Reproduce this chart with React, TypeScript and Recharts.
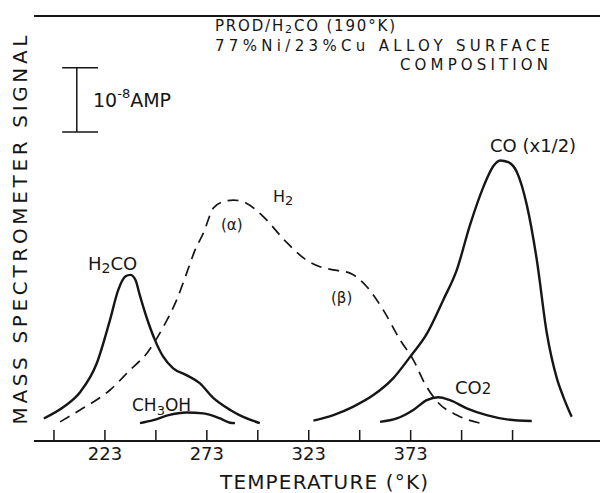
import React from 'react';
import { LineChart, Line, XAxis, YAxis, ReferenceLine } from 'recharts';

// temperature in K, signal in arbitrary units (0 = baseline, 100 = top of frame)
const h2coTemp = [193, 203, 211, 219, 225.5, 229.5, 233, 235.5, 238, 240, 243.5, 247.5, 251.5, 256.5, 263, 269.5, 276, 284.5, 289, 299];
const h2coSignal = [5.3, 8.1, 11.6, 18.3, 28.5, 35.5, 38.7, 39.1, 37.9, 34.5, 29.0, 23.8, 19.9, 17.1, 15.5, 13.6, 10.2, 7.3, 6.1, 4.2];

const h2Temp = [201, 210.8, 225.5, 235.3, 243.5, 251.7, 258.2, 263.1, 267.2, 271.3, 276.2, 281.1, 286, 292.6, 300.7, 311.4, 321.2, 328.5, 335.9, 343.2, 351.5, 359.6, 367.8, 374.3, 380.1, 385.8, 395.6, 407.1];
const h2Signal = [4.5, 7.3, 12.0, 16.7, 20.6, 26.9, 33.2, 39.5, 44.9, 48.9, 54.8, 56.3, 56.7, 55.9, 52.8, 47.1, 42.8, 41.0, 40.2, 39.5, 36.3, 30.8, 23.8, 19.1, 13.4, 9.4, 6.1, 4.2];

const ch3ohTemp = [240.2, 246.7, 254.2, 263.1, 271.3, 279.5, 284.4, 286.8];
const ch3ohSignal = [4.2, 4.9, 6.1, 6.7, 6.5, 5.3, 4.3, 4.2];

const coTemp = [325.3, 335.1, 344.9, 354.7, 364.5, 372.7, 380.9, 389, 395.6, 402.1, 408.7, 413.6, 416.9, 420.9, 425.1, 430, 434.9, 439.8, 444.7, 447.9, 452];
const coSignal = [4.8, 6.1, 8.1, 10.8, 14.8, 19.8, 25.2, 33.2, 40.2, 50.8, 59.8, 64.7, 66.0, 65.6, 63.3, 55.5, 42.6, 25.4, 14.8, 10.4, 5.7];

const co2Temp = [358, 366.2, 374.3, 380.9, 386.6, 392.3, 400.5, 410.3, 420.2, 432.4];
const co2Signal = [4.5, 5.3, 7.3, 9.6, 10.3, 9.6, 7.7, 6.1, 5.1, 4.7];

const tickTemps = [198, 223, 248, 273, 298, 323, 348, 373, 398, 423];
const tickLabels = ['223', '273', '323', '373'];

// 10^-8 AMP scale bar: left / centre / right temperature, bottom / top signal
const ampBarTemp = [202, 209.2, 219.6];
const ampBarSignal = [72.7, 87.8];

const zip = (t: number[], v: number[]) => t.map((x, i) => ({ t: x, v: v[i] }));

const ink = '#161616';
const font = '"DejaVu Sans", "Liberation Sans", sans-serif';

const TempTick = (props: any) => {
  const { x, y, payload } = props;
  const label = String(payload.value);
  return (
    <g>
      <line x1={x} y1={y} x2={x} y2={y - 11} stroke={ink} strokeWidth={1.5} />
      {tickLabels.includes(label) && (
        <text x={x} y={y + 19} textAnchor="middle" fontSize={18} fill={ink} fontFamily={font}>
          {label}
        </text>
      )}
    </g>
  );
};

export default function App() {
  return (
    <div style={{ position: 'absolute', left: 0, top: 0, width: 600, height: 493, background: '#fff' }}>
      <LineChart width={600} height={493} margin={{ top: 16, right: 0, left: 34, bottom: 0 }}>
        <XAxis
          type="number"
          dataKey="t"
          domain={[188.2, 465.9]}
          ticks={tickTemps}
          height={52}
          tickSize={0}
          tickMargin={0}
          tickLine={false}
          tick={<TempTick />}
          axisLine={{ stroke: ink, strokeWidth: 2 }}
          allowDataOverflow
        />
        <YAxis
          type="number"
          domain={[0, 100]}
          width={0}
          tick={false}
          tickLine={false}
          axisLine={{ stroke: ink, strokeWidth: 2 }}
          allowDataOverflow
        />
        <ReferenceLine y={100} stroke={ink} strokeWidth={2} />
        <ReferenceLine segment={[{ x: ampBarTemp[1], y: ampBarSignal[0] }, { x: ampBarTemp[1], y: ampBarSignal[1] }]} stroke={ink} strokeWidth={1.5} />
        <ReferenceLine segment={[{ x: ampBarTemp[0], y: ampBarSignal[0] }, { x: ampBarTemp[2], y: ampBarSignal[0] }]} stroke={ink} strokeWidth={1.5} />
        <ReferenceLine segment={[{ x: ampBarTemp[0], y: ampBarSignal[1] }, { x: ampBarTemp[2], y: ampBarSignal[1] }]} stroke={ink} strokeWidth={1.5} />

        <Line data={zip(h2Temp, h2Signal)} dataKey="v" type="monotone" stroke={ink} strokeWidth={1.7} strokeDasharray="11 7" dot={false} isAnimationActive={false} />
        <Line data={zip(h2coTemp, h2coSignal)} dataKey="v" type="monotone" stroke={ink} strokeWidth={2.4} dot={false} isAnimationActive={false} />
        <Line data={zip(ch3ohTemp, ch3ohSignal)} dataKey="v" type="monotone" stroke={ink} strokeWidth={2.4} dot={false} isAnimationActive={false} />
        <Line data={zip(coTemp, coSignal)} dataKey="v" type="monotone" stroke={ink} strokeWidth={2.4} dot={false} isAnimationActive={false} />
        <Line data={zip(co2Temp, co2Signal)} dataKey="v" type="monotone" stroke={ink} strokeWidth={2.4} dot={false} isAnimationActive={false} />
      </LineChart>

      <svg width={600} height={493} style={{ position: 'absolute', left: 0, top: 0, pointerEvents: 'none' }} fontFamily={font} fill={ink}>
        {/* axis titles */}
        <text transform="translate(27,230) rotate(-90)" textAnchor="middle" fontSize={20} textLength={389} lengthAdjust="spacing">
          MASS SPECTROMETER SIGNAL
        </text>
        <text x={324} y={489} textAnchor="middle" fontSize={20} textLength={208} lengthAdjust="spacing">
          TEMPERATURE (°K)
        </text>

        {/* heading */}
        <text x={215} y={31} fontSize={15} textLength={180} lengthAdjust="spacing">
          PROD/H<tspan fontSize={11} dy={2}>2</tspan><tspan dy={-2}>CO  (190°K)</tspan>
        </text>
        <text x={215} y={51} fontSize={15} textLength={335} lengthAdjust="spacing">
          77%Ni/23%Cu  ALLOY SURFACE
        </text>
        <text x={400} y={70} fontSize={15} textLength={148} lengthAdjust="spacing">
          COMPOSITION
        </text>

        {/* scale bar caption */}
        <text x={93} y={107} fontSize={19}>
          10<tspan fontSize={13} dy={-9}>-8</tspan><tspan dy={9}>AMP</tspan>
        </text>

        {/* curve labels */}
        <text x={88} y={270} fontSize={18}>
          H<tspan fontSize={14} dy={3}>2</tspan><tspan dy={-3}>CO</tspan>
        </text>
        <text x={273} y={202} fontSize={16}>
          H<tspan fontSize={13} dy={3}>2</tspan>
        </text>
        <text x={221} y={230} fontSize={15}>(α)</text>
        <text x={331} y={303} fontSize={15}>(β)</text>
        <text x={490} y={152} fontSize={18}>CO (x1/2)</text>
        <text x={455} y={394} fontSize={18}>
          CO<tspan fontSize={15}>2</tspan>
        </text>
        <text x={132} y={411} fontSize={17}>
          CH<tspan fontSize={13} dy={4}>3</tspan><tspan dy={-4}>OH</tspan>
        </text>
      </svg>
    </div>
  );
}
